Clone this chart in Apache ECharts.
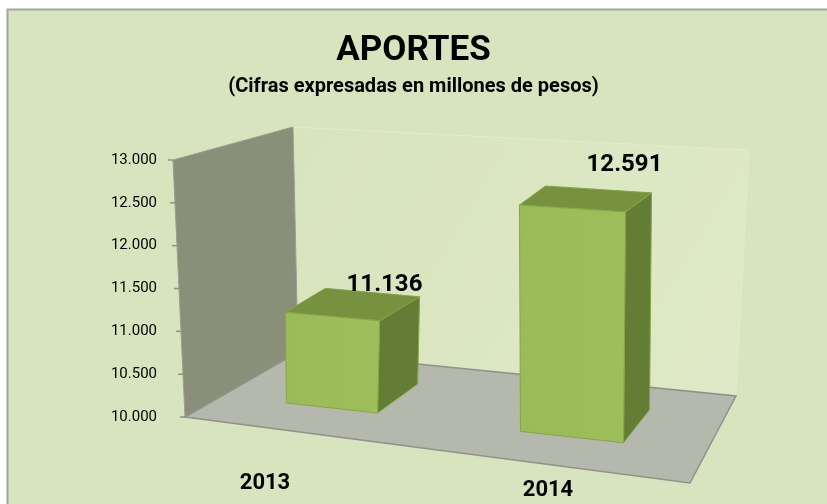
<!DOCTYPE html>
<html>
<head>
<meta charset="utf-8">
<script src="https://cdn.jsdelivr.net/npm/echarts@6/dist/echarts.min.js"></script>
<style>
  html, body { margin: 0; padding: 0; background: #fff; }
  #chart { width: 827px; height: 504px; }
</style>
</head>
<body>
<div id="chart"></div>
<script>
// datos del gráfico
const categories = ["2013", "2014"];
const aportes = [11136, 12591];
const yMin = 10000;
const yMax = 13000;
const yStep = 500;
const valueTicks = [10000, 10500, 11000, 11500, 12000, 12500, 13000];

const FONT = "'Roboto', sans-serif";

// 10000 -> "10.000"
function fmt(v) {
    return String(Math.round(v)).replace(/\B(?=(\d{3})+(?!\d))/g, ".");
}

function add(p, d) { return [p[0] + d[0], p[1] + d[1]]; }

// =============================
// Paredes y piso (estilo 3D)
// =============================
function renderWalls(params, api) {
    const cs = params.coordSys;
    const yBot = api.coord([0, yMin])[1];
    const yTop = api.coord([0, yMax])[1];
    const ax = cs.x - 35;

    const fTop = [ax - 4, yTop];
    const fBot = [ax + 8, yBot];
    const bBot = add(fBot, [113, -65]);
    const bTop = add(fTop, [120, -33]);
    const frBot = add(fBot, [505, 66]);
    const brBot = add(bBot, [438, 44]);
    const brTop = add(bTop, [456, 23]);

    const children = [
        { type: "polygon", shape: { points: [bTop, brTop, brBot, bBot] },
          style: { fill: new echarts.graphic.LinearGradient(0, 0, 1, 1, [
              { offset: 0, color: "#d8e4bd" }, { offset: 1, color: "#dfe9c7" }]),
              stroke: "#e2ebcd", lineWidth: 1 } },
        { type: "polygon", shape: { points: [fTop, bTop, bBot, fBot] },
          style: { fill: "#898f78", stroke: "#9a9d92", lineWidth: 1 } },
        { type: "polygon", shape: { points: [fBot, bBot, brBot, frBot] },
          style: { fill: "#b5b8ad", stroke: "#8f918b", lineWidth: 1.5 } }
    ];

    valueTicks.forEach(t => {
        const y = api.coord([0, t])[1];
        const k = (y - yTop) / (yBot - yTop);
        const ex = fTop[0] + (fBot[0] - fTop[0]) * k;
        children.push({ type: "line", shape: { x1: ex - 5, y1: y, x2: ex, y2: y },
            style: { stroke: "#8f918b", lineWidth: 1.5 } });
    });

    return { type: "group", children: children };
}

// =============================
// Barras 3D
// =============================
function renderBar(params, api) {
    const cs = params.coordSys;
    const i = api.value(0);
    const v = api.value(1);
    const top = api.coord([i, v]);
    const base = api.coord([i, yMin]);
    const band = api.size([1, 0])[0];
    const cx = top[0];
    const u = (cx - cs.x) / cs.width;

    const vscale = 0.94 + 0.18 * (u - 0.25);
    const h = (base[1] - top[1]) * vscale;
    const w = band * 0.38 * (1 + 0.26 * (u - 0.25));
    const fy = base[1] - 23.5 + (cx - cs.x) * 0.121;
    const sb = 0.11;
    const st = 0.11 - 0.00019 * h;
    const dTop = [40 - 28 * (u - 0.25), -24 + 10 * (u - 0.25)];
    const dBot = [40 - 28 * (u - 0.25), -29 - 8 * (u - 0.25)];

    const FLb = [cx - w / 2, fy - w / 2 * sb];
    const FRb = [cx + w / 2, fy + w / 2 * sb];
    const FLt = [cx - w / 2 - 1, fy - h - w / 2 * st];
    const FRt = [cx + w / 2 + 2, fy - h + w / 2 * st];
    const BLt = add(FLt, dTop);
    const BRt = add(FRt, dTop);
    const BRb = add(FRb, dBot);

    const edge = { stroke: "#86a548", lineWidth: 1 };
    const labelX = (BLt[0] + BRt[0]) / 2 + 12 + 28 * (u - 0.25);
    const labelY = (BLt[1] + BRt[1]) / 2 - 8 - 32 * (u - 0.25);

    return {
        type: "group",
        children: [
            { type: "polygon", shape: { points: [FRt, BRt, BRb, FRb] },
              style: Object.assign({ fill: "#647d35" }, edge) },
            { type: "polygon", shape: { points: [FLt, FRt, BRt, BLt] },
              style: Object.assign({ fill: "#77923f" }, edge) },
            { type: "polygon", shape: { points: [FLt, FRt, FRb, FLb] },
              style: Object.assign({ fill: new echarts.graphic.LinearGradient(0, 0, 1, 0, [
                  { offset: 0, color: "#9bbb59" }, { offset: 1, color: "#9ebe5c" }]) }, edge) },
            { type: "text", x: labelX, y: labelY,
              style: { text: fmt(v), fill: "#000", font: "bold 24px " + FONT,
                       align: "center", verticalAlign: "middle" } },
            { type: "text", x: cx - 67 + 86 * (u - 0.25), y: fy + 75 - 44 * (u - 0.25),
              style: { text: categories[i], fill: "#000", font: "bold 22px " + FONT,
                       align: "center", verticalAlign: "middle" } }
        ]
    };
}

const chart = echarts.init(document.getElementById("chart"));

chart.setOption({
    backgroundColor: "#ffffff",
    animation: false,
    graphic: [
        { type: "rect", z: -10, shape: { x: 7.5, y: 9.5, width: 840, height: 520 },
          style: { fill: "#d8e4bd", stroke: "#a3a3a3", lineWidth: 2 } }
    ],
    title: [
        { text: "APORTES", left: "center", top: 29,
          textStyle: { fontFamily: FONT, fontWeight: "bold", fontSize: 35, color: "#000" } },
        { text: "(Cifras expresadas en millones de pesos)", left: "center", top: 72,
          textStyle: { fontFamily: FONT, fontWeight: "bold", fontSize: 20, color: "#000" } }
    ],
    grid: { left: 212, right: 135, top: 160, bottom: 87 },
    xAxis: {
        type: "category",
        data: categories,
        show: false
    },
    yAxis: {
        type: "value",
        min: yMin,
        max: yMax,
        interval: yStep,
        offset: 35,
        axisLine: { show: false },
        axisTick: { show: false },
        splitLine: { show: false },
        axisLabel: {
            margin: 20,
            formatter: fmt,
            color: "#000",
            fontFamily: FONT,
            fontSize: 15
        }
    },
    series: [
        {
            type: "custom",
            name: "fondo",
            renderItem: renderWalls,
            data: [[0, yMin]],
            z: 1,
            silent: true
        },
        {
            type: "custom",
            name: "Aportes",
            renderItem: renderBar,
            data: aportes.map((v, i) => [i, v]),
            z: 2
        }
    ]
});
</script>
</body>
</html>
